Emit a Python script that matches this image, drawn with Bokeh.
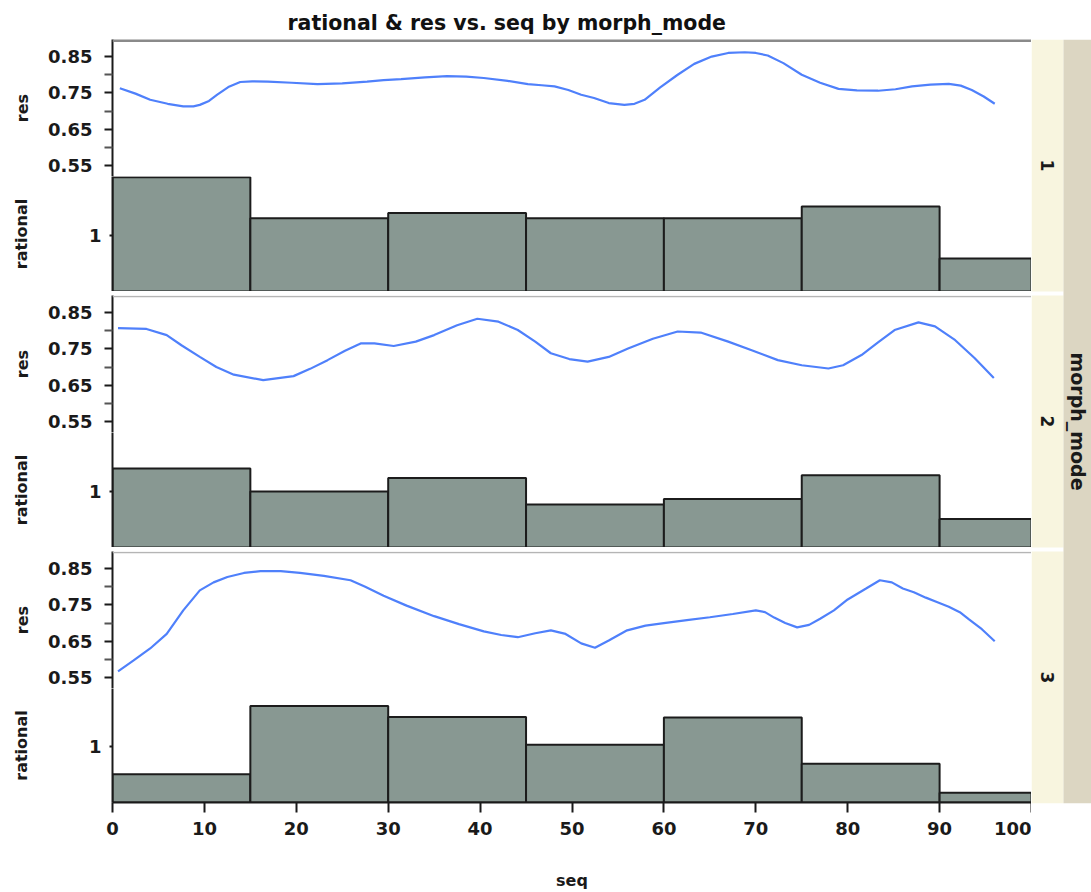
import math
from bokeh.plotting import figure
from bokeh.layouts import column, row
from bokeh.models import Range1d, FixedTicker, Span, ColumnDataSource
from bokeh.embed import file_html
from bokeh.resources import INLINE
from bokeh.core.properties import value

# ---------------- data ----------------
morph_modes = ["1", "2", "3"]
bin_edges = [0, 15, 30, 45, 60, 75, 90, 100]

rational_1 = [2.04, 1.31, 1.40, 1.31, 1.31, 1.52, 0.59]
rational_2 = [1.41, 1.00, 1.24, 0.77, 0.865, 1.29, 0.51]
rational_3 = [0.51, 1.74, 1.54, 1.04, 1.53, 0.70, 0.175]

seq_1 = [0.8, 2.5, 4.1, 6.0, 7.7, 8.8, 9.5, 10.5, 11.4, 12.6, 13.9, 15.2, 16.9, 19.5,
         22.3, 25.0, 27.7, 29.5, 31.4, 34.0, 36.4, 38.5, 40.4, 43.0, 45.2, 46.7, 48.1,
         49.6, 51.0, 52.4, 54.0, 55.7, 56.8, 57.9, 59.6, 61.5, 63.3, 65.2, 67.0, 68.8,
         70.0, 71.3, 73.0, 75.0, 77.0, 79.0, 81.0, 83.3, 85.2, 87.0, 89.0, 91.0, 92.3,
         93.5, 94.8, 96.0]
res_1 = [0.763, 0.748, 0.731, 0.720, 0.713, 0.713, 0.717, 0.728, 0.745, 0.766, 0.780,
         0.782, 0.781, 0.778, 0.774, 0.776, 0.781, 0.785, 0.788, 0.793, 0.796, 0.795,
         0.791, 0.783, 0.774, 0.771, 0.768, 0.758, 0.745, 0.736, 0.722, 0.717, 0.720,
         0.731, 0.765, 0.800, 0.830, 0.850, 0.860, 0.862, 0.860, 0.853, 0.832, 0.800,
         0.778, 0.761, 0.757, 0.756, 0.760, 0.768, 0.773, 0.775, 0.770, 0.758, 0.740,
         0.720]

seq_2 = [0.6, 3.7, 5.9, 7.5, 9.5, 11.3, 13.2, 16.4, 19.7, 21.5, 23.4, 25.3, 27.0, 28.5,
         30.6, 33.0, 35.0, 37.5, 39.7, 42.0, 44.1, 46.0, 47.7, 49.7, 51.7, 54.0, 56.1,
         58.8, 61.5, 64.0, 67.0, 69.7, 72.4, 75.0, 77.9, 79.5, 81.5, 83.3, 85.1, 87.7,
         89.5, 91.7, 93.8, 95.9]
res_2 = [0.807, 0.805, 0.788, 0.760, 0.728, 0.700, 0.679, 0.664, 0.675, 0.695, 0.719,
         0.745, 0.765, 0.765, 0.758, 0.770, 0.788, 0.815, 0.833, 0.825, 0.802, 0.770,
         0.738, 0.722, 0.715, 0.728, 0.751, 0.778, 0.798, 0.795, 0.770, 0.745, 0.719,
         0.705, 0.696, 0.705, 0.733, 0.768, 0.802, 0.823, 0.812, 0.774, 0.725, 0.670]

seq_3 = [0.6, 2.3, 4.1, 5.9, 7.7, 9.5, 11.0, 12.5, 14.3, 16.1, 18.3, 20.4, 23.0, 25.9,
         27.5, 29.5, 32.0, 35.0, 37.7, 40.4, 42.3, 44.1, 46.0, 47.7, 49.3, 51.0, 52.5,
         54.0, 56.0, 58.0, 60.0, 62.5, 65.0, 67.5, 70.0, 71.0, 72.0, 73.2, 74.5, 75.8,
         77.0, 78.5, 80.0, 82.0, 83.5, 84.8, 86.0, 87.2, 88.5, 89.7, 91.0, 92.2, 93.2,
         94.6, 96.0]
res_3 = [0.567, 0.597, 0.630, 0.670, 0.735, 0.790, 0.812, 0.827, 0.838, 0.843, 0.843,
         0.838, 0.830, 0.818, 0.800, 0.775, 0.748, 0.719, 0.697, 0.677, 0.667, 0.661,
         0.672, 0.680, 0.670, 0.644, 0.632, 0.652, 0.680, 0.693, 0.700, 0.708, 0.716,
         0.725, 0.735, 0.730, 0.715, 0.700, 0.688, 0.695, 0.712, 0.735, 0.765, 0.795,
         0.818, 0.812, 0.795, 0.785, 0.770, 0.758, 0.745, 0.730, 0.710, 0.683, 0.650]

res_ticks = [0.55, 0.65, 0.75, 0.85]
res_minor_ticks = [0.60, 0.70, 0.80]
rational_ticks = [1]
seq_ticks = [0, 10, 20, 30, 40, 50, 60, 70, 80, 90, 100]

title_text = "rational & res vs. seq by morph_mode"
x_label = "seq"
strip_title = "morph_mode"

rationals = [rational_1, rational_2, rational_3]
seqs = [seq_1, seq_2, seq_3]
ress = [res_1, res_2, res_3]

# ---------------- style / layout ----------------
FONT = "DejaVu Sans"
LEFT = 112
FRAME_W = 919
STRIP_W = 60
TOP = 39
SUB_H = 126
EXT = 11          # res frame reaches this far below 0.55
GAP = 4
BOTTOM = 89
RES_PX = 363.0    # px per res unit
RAT_PX = 56.0     # px per rational unit
LINE_COLOR = "#4f80fb"
BAR_FILL = "#889892"
BAR_LINE = "#1c1c1c"
CREAM = "#f8f5df"
BEIGE = "#dcd6c2"

x_range = Range1d(0, 100)


def style_axis(ax, label_standoff, tick_out, lab_standoff):
    ax.major_label_text_font = FONT
    ax.major_label_text_font_style = "bold"
    ax.major_label_text_font_size = "18px"
    ax.major_label_text_color = "#1a1a1a"
    ax.axis_label_text_font = FONT
    ax.axis_label_text_font_style = "bold"
    ax.axis_label_text_font_size = "16px"
    ax.axis_label_text_color = "#1a1a1a"
    ax.axis_line_color = "#1a1a1a"
    ax.axis_line_width = 2
    ax.major_tick_line_color = "#1a1a1a"
    ax.major_tick_line_width = 2
    ax.major_tick_in = 0
    ax.major_tick_out = tick_out
    ax.minor_tick_line_color = "#555555"
    ax.minor_tick_line_width = 2
    ax.minor_tick_in = 0
    ax.minor_tick_out = tick_out
    ax.major_label_standoff = lab_standoff
    ax.axis_label_standoff = label_standoff


res_h = SUB_H + EXT
hist_h = SUB_H - EXT
res_lo = 0.55 - EXT / RES_PX
res_hi = 0.55 + SUB_H / RES_PX
rat_hi = hist_h / RAT_PX

figs = []
for i in range(3):
    top_border = TOP if i == 0 else GAP
    pr = figure(width=LEFT + FRAME_W, height=res_h + top_border,
                x_range=x_range, y_range=Range1d(res_lo, res_hi),
                x_axis_location=None, y_axis_location="left",
                toolbar_location=None, output_backend="svg",
                min_border=0, min_border_left=LEFT, min_border_top=top_border,
                min_border_right=0, min_border_bottom=0)
    pr.outline_line_color = None
    pr.xgrid.visible = False
    pr.ygrid.visible = False
    pr.background_fill_color = "white"
    pr.border_fill_color = "white"
    if i == 0:
        pr.title.text = title_text
        pr.title.text_font = FONT
        pr.title.text_font_style = "bold"
        pr.title.text_font_size = "20.5px"
        pr.title.text_color = "#111111"
        pr.title.align = "left"
        pr.title.offset = 175
    pr.yaxis.ticker = FixedTicker(ticks=res_ticks, minor_ticks=res_minor_ticks)
    pr.yaxis.axis_label = "res"
    style_axis(pr.yaxis[0], 13, 8, 12)
    pr.add_layout(Span(location=res_hi - 1.0 / RES_PX, dimension="width",
                       line_color="#8a8a8a" if i == 0 else "#b5b5b5",
                       line_width=3 if i == 0 else 1.5))
    pr.line(seqs[i], ress[i], line_color=LINE_COLOR, line_width=2.2)
    figs.append(pr)

    bottom_border = BOTTOM if i == 2 else 0
    ph = figure(width=LEFT + FRAME_W, height=hist_h + bottom_border,
                x_range=x_range, y_range=Range1d(0, rat_hi),
                x_axis_location="below" if i == 2 else None,
                y_axis_location="left",
                toolbar_location=None, output_backend="svg",
                min_border=0, min_border_left=LEFT, min_border_top=0,
                min_border_right=0, min_border_bottom=bottom_border)
    ph.outline_line_color = None
    ph.xgrid.visible = False
    ph.ygrid.visible = False
    src = ColumnDataSource(dict(left=bin_edges[:-1], right=bin_edges[1:],
                                top=rationals[i], bottom=[0] * len(rationals[i])))
    ph.quad(left="left", right="right", top="top", bottom="bottom", source=src,
            fill_color=BAR_FILL, line_color=BAR_LINE, line_width=2)
    ph.yaxis.ticker = FixedTicker(ticks=rational_ticks)
    ph.yaxis.axis_label = "rational"
    style_axis(ph.yaxis[0], 55, 3, 8)
    if i == 2:
        ph.xaxis.ticker = FixedTicker(ticks=seq_ticks)
        ph.xaxis.axis_label = x_label
        style_axis(ph.xaxis[0], 33, 10, 9)
    figs.append(ph)

# ---------------- facet strip ----------------
PANEL_H = 2 * SUB_H
TOTAL_H = 3 * PANEL_H + 2 * GAP
strip = figure(width=STRIP_W, height=TOP + TOTAL_H + BOTTOM,
               x_range=Range1d(0, STRIP_W), y_range=Range1d(0, TOTAL_H),
               x_axis_location=None, y_axis_location=None,
               toolbar_location=None, output_backend="svg",
               min_border=0, min_border_top=TOP, min_border_bottom=BOTTOM,
               min_border_left=0, min_border_right=0)
strip.outline_line_color = None
strip.xgrid.visible = False
strip.ygrid.visible = False
tops = [TOTAL_H - k * (PANEL_H + GAP) for k in range(3)]
bots = [t - PANEL_H for t in tops]
strip.quad(left=[0] * 3, right=[32] * 3, top=tops, bottom=bots,
           fill_color=CREAM, line_color=None)
strip.quad(left=[32], right=[STRIP_W], top=[TOTAL_H], bottom=[0],
           fill_color=BEIGE, line_color=None)
strip.text(x=[16] * 3, y=[(t + b) / 2 for t, b in zip(tops, bots)], text=morph_modes,
           angle=-math.pi / 2, text_align="center", text_baseline="middle",
           text_font=value(FONT), text_font_style="bold", text_font_size="17px",
           text_color="#1a1a1a")
strip.text(x=[46], y=[TOTAL_H / 2], text=[strip_title],
           angle=-math.pi / 2, text_align="center", text_baseline="middle",
           text_font=value(FONT), text_font_style="bold", text_font_size="19px",
           text_color="#1a1a1a")

layout = row(column(*figs), strip)
open("out.html", "w").write(file_html(layout, INLINE))
